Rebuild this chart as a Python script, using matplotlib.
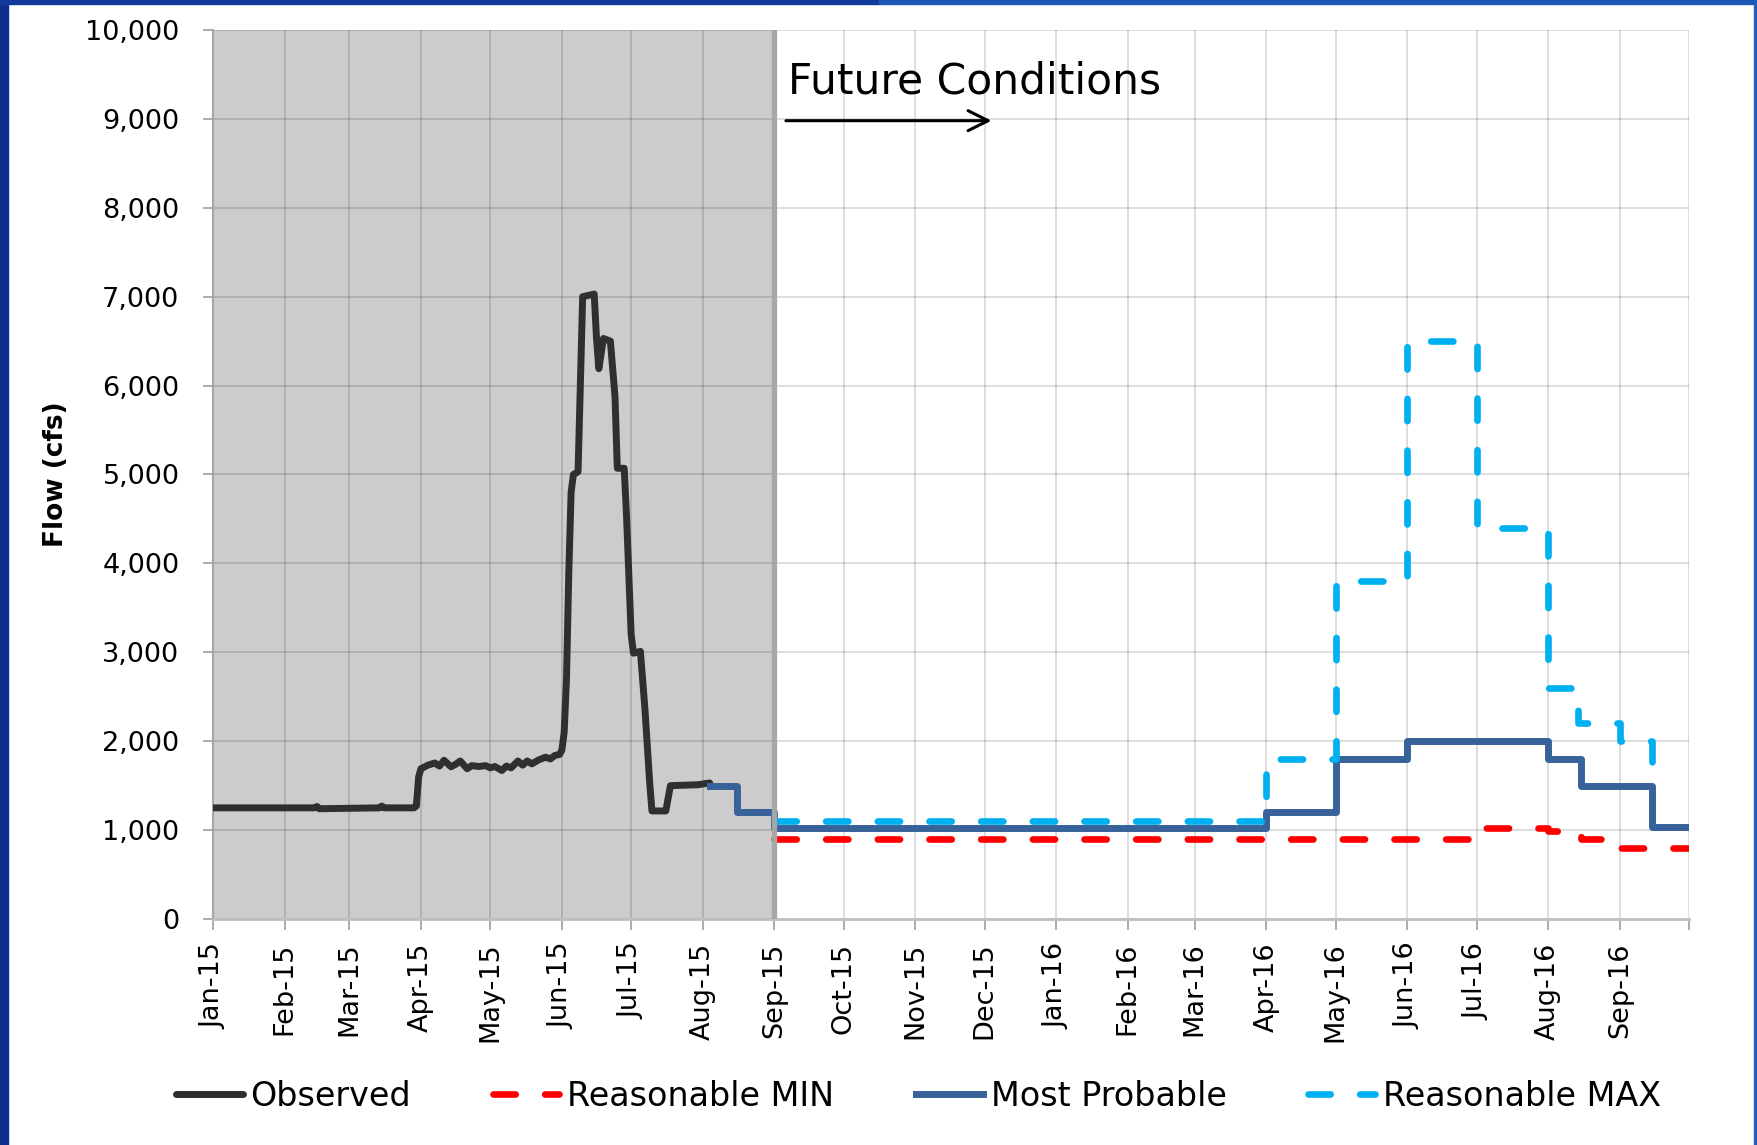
import numpy as np
import pandas as pd
import matplotlib
matplotlib.use("Agg")
import matplotlib.pyplot as plt
from matplotlib.patches import Rectangle
from matplotlib.ticker import FuncFormatter

plt.rcParams["font.family"] = ["DejaVu Sans"]
plt.rcParams["lines.scale_dashes"] = False

# observed daily flow, Jan - early Aug 2015 (cfs)
obs_dates = ["2015-01-01", "2015-02-14", "2015-02-15", "2015-02-16", "2015-03-14", "2015-03-15",
             "2015-03-16", "2015-03-29", "2015-03-30", "2015-03-31", "2015-04-01", "2015-04-04",
             "2015-04-07", "2015-04-09", "2015-04-11", "2015-04-14", "2015-04-16", "2015-04-18",
             "2015-04-21", "2015-04-23", "2015-04-26", "2015-04-29", "2015-05-01", "2015-05-03",
             "2015-05-06", "2015-05-08", "2015-05-10", "2015-05-13", "2015-05-15", "2015-05-17",
             "2015-05-19", "2015-05-22", "2015-05-25", "2015-05-27", "2015-05-29", "2015-05-31",
             "2015-06-01", "2015-06-02", "2015-06-03", "2015-06-04", "2015-06-05", "2015-06-06",
             "2015-06-08", "2015-06-09", "2015-06-10", "2015-06-15", "2015-06-16", "2015-06-17",
             "2015-06-19", "2015-06-22", "2015-06-24", "2015-06-25", "2015-06-28", "2015-06-29",
             "2015-07-01", "2015-07-02", "2015-07-05", "2015-07-07", "2015-07-09", "2015-07-10",
             "2015-07-16", "2015-07-18", "2015-07-30", "2015-08-04"]
obs_flow = [1250, 1250, 1265, 1240, 1250, 1270,
            1250, 1250, 1270, 1600, 1690, 1730,
            1755, 1720, 1785, 1712, 1740, 1777,
            1690, 1725, 1715, 1725, 1700, 1715,
            1670, 1720, 1700, 1777, 1730, 1777,
            1745, 1790, 1820, 1800, 1840, 1850,
            1900, 2100, 2700, 3900, 4800, 5000,
            5030, 6000, 7000, 7030, 6530, 6190,
            6530, 6500, 5880, 5070, 5070, 4530,
            3200, 2990, 3010, 2350, 1540, 1215,
            1215, 1500, 1510, 1530]

# forecast traces (level changes, last entry closes the final step)
mp_dates = ["2015-08-04", "2015-08-16", "2015-09-01", "2016-04-01", "2016-05-01", "2016-06-01",
            "2016-08-01", "2016-08-15", "2016-09-15", "2016-10-01"]
mp_flow = [1500, 1200, 1020, 1200, 1800, 2000, 1800, 1500, 1040, 1040]

min_dates = ["2015-09-01", "2016-07-01", "2016-08-01", "2016-08-15", "2016-09-01", "2016-10-01"]
min_flow = [900, 1020, 990, 900, 800, 800]

max_dates = ["2015-09-01", "2016-04-01", "2016-05-01", "2016-06-01", "2016-07-01", "2016-08-01",
             "2016-08-14", "2016-09-01", "2016-09-15", "2016-09-21"]
max_flow = [1100, 1800, 3800, 6500, 4400, 2600, 2200, 2000, 1600, 1600]

month_ticks = pd.date_range("2015-01-01", "2016-10-01", freq="MS")
month_labels = [d.strftime("%b-%y") for d in month_ticks[:-1]] + [""]

start = pd.Timestamp("2015-01-01")
split = pd.Timestamp("2015-09-01")
end = pd.Timestamp("2016-10-01")

fig = plt.figure(figsize=(17.58, 11.45), dpi=100)

# slide frame
fig.patches.append(Rectangle((0, 0), 8 / 1758, 1, transform=fig.transFigure, color="#0d2d8f", zorder=0))
fig.patches.append(Rectangle((0, 1 - 4 / 1145), 0.5, 4 / 1145, transform=fig.transFigure, color="#12399c", zorder=0))
fig.patches.append(Rectangle((0.5, 1 - 4 / 1145), 0.5, 4 / 1145, transform=fig.transFigure, color="#1c56b6", zorder=0))
fig.patches.append(Rectangle((1 - 4 / 1758, 0), 4 / 1758, 1, transform=fig.transFigure, color="#1f5fbf", zorder=0))

ax = fig.add_axes([0.1212, 0.1974, 0.8396, 0.7764])
ax.set_axisbelow(True)

ax.axvspan(start, split, color="#cccccc", zorder=0, lw=0)
ax.axvline(split, color="#a6a6a6", lw=3.8, zorder=10)

ax.plot(pd.to_datetime(obs_dates), obs_flow, color="#2f2f2f", lw=5,
        solid_joinstyle="round", solid_capstyle="round", label="Observed", zorder=3)
ax.plot(pd.to_datetime(min_dates), min_flow, color="#ff0000", lw=4.8, drawstyle="steps-post",
        dashes=(16, 21.2), dash_capstyle="round", label="Reasonable MIN", zorder=4)
ax.plot(pd.to_datetime(mp_dates), mp_flow, color="#38629a", lw=5, drawstyle="steps-post",
        solid_joinstyle="round", label="Most Probable", zorder=5)
ax.plot(pd.to_datetime(max_dates), max_flow, color="#00b0f0", lw=4.8, drawstyle="steps-post",
        dashes=(16, 21.2), dash_capstyle="round", label="Reasonable MAX", zorder=6)

ax.set_xlim(start, end)
ax.set_ylim(0, 10000)
ax.set_yticks(np.arange(0, 10001, 1000))
ax.yaxis.set_major_formatter(FuncFormatter(lambda v, p: f"{v:,.0f}"))
ax.set_xticks(month_ticks)
ax.set_xticklabels(month_labels, rotation=90)

ax.grid(True, color="black", alpha=0.14, lw=1.3)
for s in ["top", "right"]:
    ax.spines[s].set_visible(False)
ax.spines["left"].set_color("#a6a6a6")
ax.spines["left"].set_linewidth(1.5)
ax.spines["bottom"].set_color("#bfbfbf")
ax.spines["bottom"].set_linewidth(2)

ax.tick_params(axis="y", length=7.2, width=1.3, color="#a6a6a6", pad=17, labelsize=19.5)
ax.tick_params(axis="x", length=8, width=1.3, color="#a6a6a6", pad=9, labelsize=19.5)

ax.set_ylabel("Flow (cfs)", fontsize=19, fontweight="bold")
ax.yaxis.set_label_coords(-0.0973, 0.5)

ax.text(pd.Timestamp("2015-09-07"), 9291, "Future Conditions", fontsize=30.5, va="baseline")
ax.annotate("", xy=(pd.Timestamp("2015-12-04"), 8980), xytext=(pd.Timestamp("2015-09-06"), 8980),
            arrowprops=dict(arrowstyle="->", lw=2.2, color="black", mutation_scale=36,
                            shrinkA=0, shrinkB=0))

fig.legend(loc="center", bbox_to_anchor=(0.5225, 0.0425), bbox_transform=fig.transFigure,
           ncol=4, frameon=False, fontsize=24, handlelength=2.0, handletextpad=0.24,
           columnspacing=2.45)

fig.savefig("out.png", dpi=100)
